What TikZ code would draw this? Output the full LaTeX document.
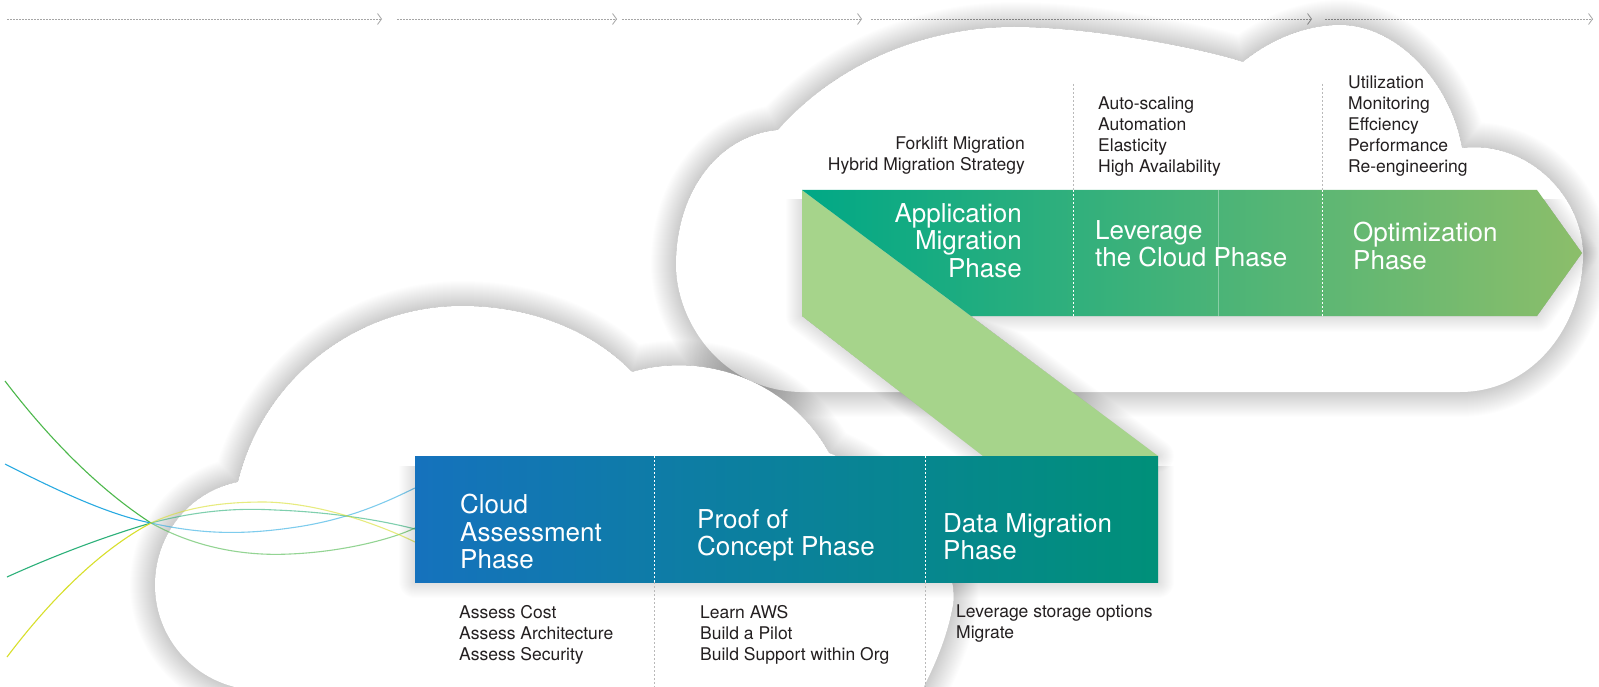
\documentclass[tikz,border=0pt]{standalone}
\usepackage{fontspec}
\setmainfont{TeX Gyre Heros}
\usetikzlibrary{arrows.meta}

\definecolor{txt}{HTML}{231F20}
\definecolor{blueL}{HTML}{1572BD}
\definecolor{tealM}{HTML}{0E829F}
\definecolor{tealR}{HTML}{009079}
\definecolor{grnL}{HTML}{00A886}
\definecolor{grnM}{HTML}{3DB27A}
\definecolor{grnR}{HTML}{8CBE6A}
\definecolor{bandc}{HTML}{A6D48B}
\definecolor{cgreen}{HTML}{4CB84B}
\definecolor{cblue}{HTML}{29AAE1}
\definecolor{cteal}{HTML}{2BB079}
\definecolor{cyellow}{HTML}{D8DF2B}
\definecolor{shade}{HTML}{3A3A44}

% outlines that are used twice (shadow and fill)
\newcommand{\topcloud}{(778,130) .. controls (840,60) and (930,27) .. (1014,27)
  .. controls (1090,27) and (1200,48) .. (1243,62)
  .. controls (1270,40) and (1305,25) .. (1340,25)
  .. controls (1395,25) and (1450,80) .. (1462,148)
  .. controls (1530,140) and (1585,200) .. (1583,258)
  .. controls (1581,330) and (1530,392) .. (1460,392)
  -- (800,392)
  .. controls (720,390) and (676,320) .. (676,265)
  .. controls (676,190) and (720,135) .. (778,130) -- cycle}
\newcommand{\botcloud}{(260,690) .. controls (202,690) and (155,643) .. (155,585)
  .. controls (155,535) and (189,492) .. (238,482)
  .. controls (263,379) and (356,306) .. (462,306)
  .. controls (525,306) and (588,327) .. (632,372)
  .. controls (708,350) and (791,384) .. (829,453)
  .. controls (900,480) and (965,560) .. (952,610)
  .. controls (945,645) and (930,675) .. (917,700)
  -- (260,700) -- cycle}
\newcommand{\barband}{(tl) -- (tr) -- (tip) -- (br) -- (bd) -- (qr) -- (qe) -- (bl) -- cycle}
\newcommand{\barlow}{(ql) rectangle (qb)}

\begin{document}
\begin{tikzpicture}[x=1pt, y=-1pt] % one unit = one pixel, y runs down
\tikzstyle{big} = [inner sep=0pt, text=white, font=\fontsize{26}{27.5}\selectfont]
\tikzstyle{small} = [inner sep=0pt, text=txt, font=\fontsize{17.5}{21}\selectfont]
\tikzstyle{glow} = [shade, opacity=0.009, line join=round]
\tikzstyle{divw} = [white, line width=1pt, dash pattern=on 2pt off 2pt]
\tikzstyle{divg} = [gray!55, line width=0.8pt, dash pattern=on 2pt off 2pt]
\tikzstyle{timeline} = [gray!70, line width=0.8pt, dash pattern=on 1.5pt off 1.5pt, -{Straight Barb[length=4pt,width=11pt]}]
\tikzstyle{wire} = [line width=1.1pt]

\fill[white] (0,0) rectangle (1599,687);
\useasboundingbox (0,0) rectangle (1599,687);

% timeline along the top
\foreach \a/\b [count=\i] in {7/382, 397/617, 622/862, 871/1312, 1325/1593}{
  \coordinate (ts\i) at (\a,19);
  \coordinate (te\i) at (\b,19);
  \draw[timeline] (ts\i) -- (te\i);
}

% clouds, each with a soft halo
\foreach \w in {2,4,...,50} \draw[glow, line width=\w pt] \topcloud;
\fill[white] \topcloud;
\foreach \w in {2,4,...,50} \draw[glow, line width=\w pt] \botcloud;
\fill[white] \botcloud;

% coloured strands
\draw[wire, cgreen] (5,381) .. controls (50,440) and (100,490) .. (151,523);
\draw[wire, cgreen, opacity=0.6] (151,523) .. controls (200,550) and (250,556) .. (290,554) .. controls (340,552) and (390,540) .. (415,528);
\draw[wire, cblue] (5,464) .. controls (60,492) and (110,515) .. (151,523);
\draw[wire, cblue, opacity=0.6] (151,523) .. controls (200,534) and (240,535) .. (290,528) .. controls (350,520) and (390,500) .. (415,488);
\draw[wire, cteal] (7,577) .. controls (60,553) and (110,535) .. (151,523);
\draw[wire, cteal, opacity=0.6] (151,523) .. controls (200,510) and (240,508) .. (275,510) .. controls (330,512) and (380,520) .. (415,529);
\draw[wire, cyellow] (7,657) .. controls (50,600) and (100,550) .. (151,523);
\draw[wire, cyellow, opacity=0.6] (151,523) .. controls (190,505) and (230,502) .. (265,502) .. controls (320,503) and (380,525) .. (415,542);

% corners of the bars and the band
\coordinate (tl) at (802,190);
\coordinate (tr) at (1537,190);
\coordinate (tip) at (1582,253);
\coordinate (br) at (1537,316);
\coordinate (bd) at (971,316);
\coordinate (bl) at (802,316);
\coordinate (ql) at (415,456);
\coordinate (qr) at (1158,456);
\coordinate (qb) at (1158,582);
\coordinate (qe) at (983,456);

% shadows under the bars
\begin{scope}
  \clip (0,200) rectangle (1599,687);
  \fill[shade, opacity=0.08, shift={(6,14)}] \barband;
  \foreach \w in {2,4,...,32} \draw[glow, line width=\w pt, shift={(6,14)}] \barband;
\end{scope}
\begin{scope}
  \clip (0,466) rectangle (1599,687);
  \fill[shade, opacity=0.08, shift={(6,14)}] \barlow;
  \foreach \w in {2,4,...,32} \draw[glow, line width=\w pt, shift={(6,14)}] \barlow;
\end{scope}

\fill[bandc] (tl) -- (qr) -- (qe) -- (bl) -- cycle;
\path[left color=grnL, middle color=grnM, right color=grnR] (tl) -- (tr) -- (tip) -- (br) -- (bd) -- cycle;
\path[left color=blueL, middle color=tealM, right color=tealR] \barlow;

% dividers
\foreach \x in {654,925}{
  \draw[divw] (\x,456) -- (\x,582);
  \draw[divg] (\x,582) -- (\x,687);
}
\foreach \x in {1073,1322}{
  \draw[divw] (\x,190) -- (\x,316);
  \draw[divg] (\x,84) -- (\x,190);
}
\draw[white, opacity=0.35, line width=0.8pt] (1218,190) -- (1218,316);

% phase names
\node[big, align=right, anchor=north east] (appmig) at (1022,203) {Application\\Migration\\Phase};
\node[big, align=left, anchor=north west] (leverage) at (1095,220) {Leverage\\the Cloud Phase};
\node[big, align=left, anchor=north west] (optim) at (1353,222) {Optimization\\Phase};
\node[big, align=left, anchor=north west] (assess) at (460,494) {Cloud\\Assessment\\Phase};
\node[big, align=left, anchor=north west] (poc) at (697,509) {Proof of\\Concept Phase};
\node[big, align=left, anchor=north west] (datamig) at (943,513) {Data Migration\\Phase};

% task lists
\node[small, align=right, anchor=north east] (appmiglist) at (1025,136) {Forklift Migration\\Hybrid Migration Strategy};
\node[small, align=left, anchor=north west] (leveragelist) at (1098,97) {Auto-scaling\\Automation\\Elasticity\\High Availability};
\node[small, align=left, anchor=north west] (optimlist) at (1348,76) {Utilization\\Monitoring\\Effciency\\Performance\\Re-engineering};
\node[small, align=left, anchor=north west] (assesslist) at (459,605) {Assess Cost\\Assess Architecture\\Assess Security};
\node[small, align=left, anchor=north west] (poclist) at (700,605) {Learn AWS\\Build a Pilot\\Build Support within Org};
\node[small, align=left, anchor=north west] (datamiglist) at (956,605) {Leverage storage options\\Migrate};
\end{tikzpicture}
\end{document}
